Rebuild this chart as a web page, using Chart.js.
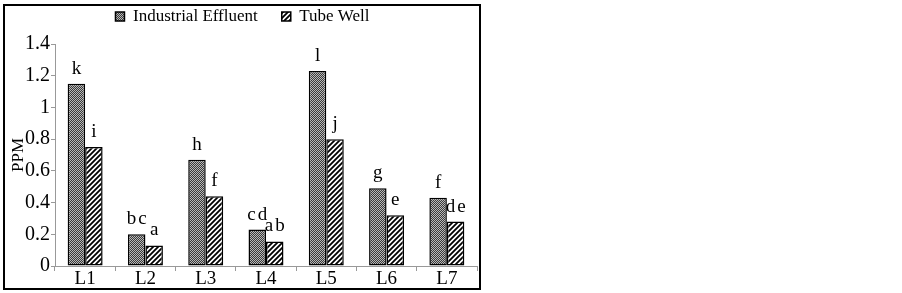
<!DOCTYPE html>
<html>
<head>
<meta charset="utf-8">
<script src="https://cdn.jsdelivr.net/npm/chart.js@4"></script>
<style>
  html, body { margin: 0; padding: 0; background: #fff; }
  #wrap { width: 902px; height: 293px; }
</style>
</head>
<body>
<div id="wrap"><canvas id="ppmChart" width="902" height="293"></canvas></div>
<script>
// categories and series
const sites = ['L1', 'L2', 'L3', 'L4', 'L5', 'L6', 'L7'];
const effluent = [1.15, 0.2, 0.67, 0.23, 1.23, 0.49, 0.43];
const tubeWell = [0.75, 0.13, 0.44, 0.155, 0.8, 0.32, 0.28];
// significance letters above bars
const effluentLetters = ['k', 'bc', 'h', 'cd', 'l', 'g', 'f'];
const tubeWellLetters = ['i', 'a', 'f', 'ab', 'j', 'e', 'de'];
const yTicks = [0, 0.2, 0.4, 0.6, 0.8, 1, 1.2, 1.4];

const serif = 'Liberation Serif';

// fill pattern: dense dotted grey
function dotPattern() {
  const c = document.createElement('canvas');
  c.width = 2; c.height = 2;
  const g = c.getContext('2d');
  g.fillStyle = '#3a3a3a';
  g.fillRect(0, 0, 2, 2);
  g.fillStyle = '#b8b8b8';
  g.fillRect(0, 0, 1, 1);
  g.fillRect(1, 1, 1, 1);
  return g.createPattern(c, 'repeat');
}

// fill pattern: diagonal hatching
function hatchPattern() {
  const c = document.createElement('canvas');
  c.width = 5; c.height = 5;
  const g = c.getContext('2d');
  g.fillStyle = '#fff';
  g.fillRect(0, 0, 5, 5);
  g.strokeStyle = '#000';
  g.lineWidth = 1.8;
  g.beginPath();
  g.moveTo(-1, 6); g.lineTo(6, -1);
  g.moveTo(-1, 1); g.lineTo(1, -1);
  g.moveTo(4, 6); g.lineTo(6, 4);
  g.stroke();
  return g.createPattern(c, 'repeat');
}

// legend: wide gap between items but a fixed, short box height
const legendHeight = {
  id: 'legendHeight',
  afterInit(chart) {
    const lg = chart.legend;
    if (!lg) return;
    const fit = lg.fit;
    lg.fit = function () {
      fit.call(this);
      this.height = 60;
    };
  }
};

// letters above each bar
const barLetters = {
  id: 'barLetters',
  afterDatasetsDraw(chart) {
    const ctx = chart.ctx;
    const sets = [effluentLetters, tubeWellLetters];
    ctx.save();
    ctx.font = '19px "' + serif + '"';
    ctx.letterSpacing = '2px';
    ctx.fillStyle = '#000';
    ctx.textAlign = 'center';
    ctx.textBaseline = 'alphabetic';
    sets.forEach((letters, i) => {
      chart.getDatasetMeta(i).data.forEach((bar, j) => {
        ctx.fillText(letters[j], bar.x + 1, bar.y - 10);
      });
    });
    ctx.restore();
  }
};

// outer frame round the chart
const frame = {
  id: 'frame',
  afterDraw(chart) {
    const ctx = chart.ctx;
    ctx.save();
    ctx.strokeStyle = '#000';
    ctx.lineWidth = 2;
    ctx.strokeRect(4, 5, 476, 284);
    ctx.restore();
  }
};

const ctx = document.getElementById('ppmChart').getContext('2d');

new Chart(ctx, {
  type: 'bar',
  data: {
    labels: sites,
    datasets: [{
      label: 'Industrial Effluent',
      data: effluent,
      backgroundColor: dotPattern(),
      borderColor: '#000',
      borderWidth: 1.5,
      borderSkipped: false
    }, {
      label: 'Tube Well',
      data: tubeWell,
      backgroundColor: hatchPattern(),
      borderColor: '#000',
      borderWidth: 1.5,
      borderSkipped: false
    }]
  },
  options: {
    responsive: false,
    animation: false,
    layout: { padding: { left: 8, top: -16, right: 425, bottom: 0 } },
    datasets: { bar: { categoryPercentage: 0.58, barPercentage: 1 } },
    plugins: {
      tooltip: { enabled: false },
      legend: {
        position: 'top',
        labels: {
          color: '#000',
          font: { family: serif, size: 17 },
          boxWidth: 9,
          boxHeight: 9,
          padding: 24
        }
      }
    },
    scales: {
      x: {
        afterFit(scale) { scale.height = 27; },
        grid: { drawOnChartArea: false, color: '#999', tickLength: 5 },
        border: { color: '#999' },
        ticks: { color: '#000', font: { family: serif, size: 19 }, padding: -3 }
      },
      y: {
        min: 0,
        max: 1.4,
        afterBuildTicks(scale) {
          scale.ticks = yTicks.map(v => ({ value: v }));
        },
        afterFit(scale) { scale.width = 47; },
        grid: { drawOnChartArea: false, color: '#999', tickLength: 4 },
        border: { color: '#999' },
        ticks: {
          color: '#000',
          font: { family: serif, size: 20 },
          padding: 1,
          callback: v => String(Math.round(v * 10) / 10)
        },
        title: {
          display: true,
          text: 'PPM',
          color: '#000',
          font: { family: serif, size: 17 },
          padding: 0
        }
      }
    }
  },
  plugins: [legendHeight, barLetters, frame]
});
</script>
</body>
</html>
